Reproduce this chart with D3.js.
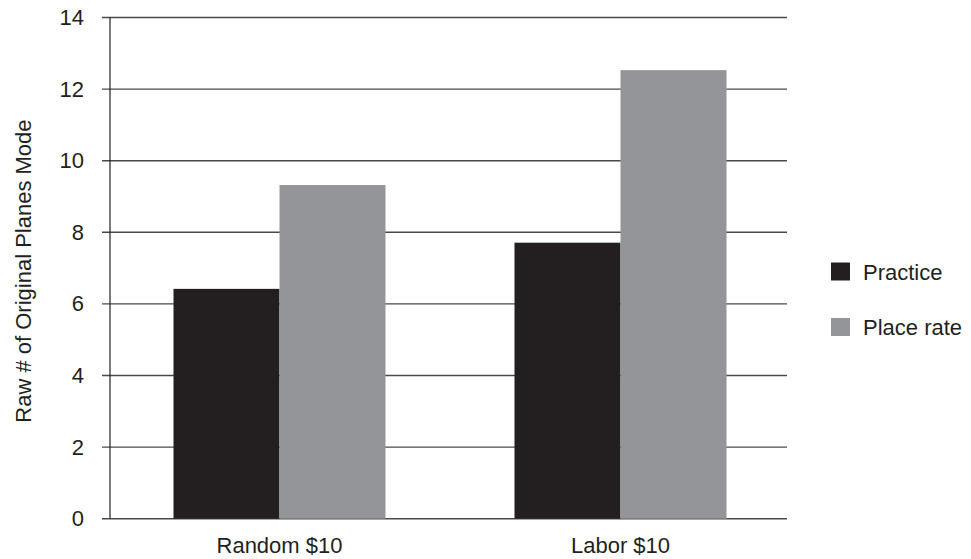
<!DOCTYPE html>
<html>
<head>
<meta charset="utf-8">
<script src="https://cdn.jsdelivr.net/npm/d3@7"></script>
<style>
  html, body { margin: 0; padding: 0; background: #fff; }
  svg { display: block; }
  text { font-family: "Liberation Sans", Arial, Helvetica, sans-serif; fill: #231f20; }
</style>
</head>
<body>
<svg id="chart" width="971" height="559"></svg>
<script>
const categories = ["Random $10", "Labor $10"];
const seriesNames = ["Practice", "Place rate"];
const practiceValues = [6.42, 7.71];
const placeRateValues = [9.32, 12.53];
const yTicks = [0, 2, 4, 6, 8, 10, 12, 14];
const yTitle = "Raw # of Original Planes Mode";
const colors = ["#231f20", "#939598"];

const seriesValues = [practiceValues, placeRateValues];
const svg = d3.select("#chart");

const y = d3.scaleLinear().domain([0, 14]).range([518.7, 17.5]);
const x0 = d3.scaleBand().domain(categories).range([109, 791]).padding(0);
const x1 = d3.scaleBand().domain(seriesNames).range([0, x0.bandwidth()])
  .paddingInner(0).paddingOuter(0.6085);

// gridlines (with tick stubs to left of axis)
svg.append("g").selectAll("line").data(yTicks).join("line")
  .attr("x1", 102).attr("x2", 787)
  .attr("y1", d => y(d)).attr("y2", d => y(d))
  .attr("stroke", "#4a4a4a").attr("stroke-width", 1.4);

// bars
const groups = svg.append("g").selectAll("g").data(categories).join("g")
  .attr("transform", d => `translate(${x0(d)},0)`);
groups.selectAll("rect")
  .data((c, i) => seriesNames.map((s, j) => ({ s, j, v: seriesValues[j][i] })))
  .join("rect")
  .attr("x", d => x1(d.s))
  .attr("width", x1.bandwidth())
  .attr("y", d => y(d.v))
  .attr("height", d => y(0) - y(d.v))
  .attr("fill", d => colors[d.j]);

// y axis line
svg.append("line")
  .attr("x1", 110).attr("x2", 110)
  .attr("y1", y(14)).attr("y2", y(0))
  .attr("stroke", "#231f20").attr("stroke-width", 1.2);

// y tick labels
const yAxis = d3.axisLeft(y).tickValues(yTicks).tickSize(0).tickPadding(0);
const ya = svg.append("g").attr("transform", "translate(84,0)").call(yAxis);
ya.select(".domain").remove();
ya.selectAll("text").attr("font-size", 22).attr("fill", "#231f20")
  .style("font-family", '"Liberation Sans", Arial, sans-serif');

// x labels
const xAxis = d3.axisBottom(x0).tickSize(0).tickPadding(0);
const xa = svg.append("g").attr("transform", "translate(0,537)").call(xAxis);
xa.select(".domain").remove();
xa.selectAll("text").attr("font-size", 22).attr("fill", "#231f20")
  .style("font-family", '"Liberation Sans", Arial, sans-serif');

// y title
svg.append("text")
  .attr("transform", `translate(31,${(y(14) + y(0)) / 2 + 3}) rotate(-90)`)
  .attr("text-anchor", "middle")
  .attr("font-size", 22)
  .text(yTitle);

// legend
const legendY = [271.5, 327];
const lg = svg.append("g").selectAll("g").data(seriesNames).join("g")
  .attr("transform", (d, i) => `translate(831,${legendY[i]})`);
lg.append("rect").attr("x", 0).attr("y", -9).attr("width", 19).attr("height", 18)
  .attr("fill", (d, i) => colors[i]);
lg.append("text").attr("x", 32).attr("y", 8).attr("font-size", 22).text(d => d);
</script>
</body>
</html>
